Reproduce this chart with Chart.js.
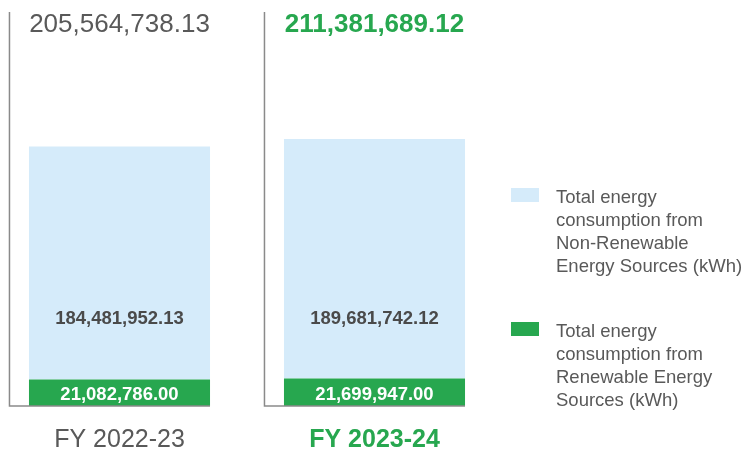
<!DOCTYPE html>
<html>
<head>
<meta charset="utf-8">
<script src="https://cdn.jsdelivr.net/npm/chart.js@4.4.1/dist/chart.umd.min.js"></script>
<style>
  html, body { margin: 0; padding: 0; background: #fff; }
  #wrap { width: 751px; height: 454px; }
</style>
</head>
<body>
<div id="wrap"><canvas id="energy"></canvas></div>
<script>
const categories = ["FY 2022-23", "FY 2023-24"];
const nonRenewable = [184481952.13, 189681742.12];
const renewable = [21082786.00, 21699947.00];
const totals = [205564738.13, 211381689.12];
const legendLines = [
  ["Total energy", "consumption from", "Non-Renewable", "Energy Sources (kWh)"],
  ["Total energy", "consumption from", "Renewable Energy", "Sources (kWh)"]
];

const GREEN = "#27a74f";
const BLUE = "#d5ebfa";
const GREY = "#595959";
const FONT = "'Liberation Sans', Arial, sans-serif";

const fmt = v => v.toLocaleString("en-US", { minimumFractionDigits: 2, maximumFractionDigits: 2 });

// panel lines, value labels and the legend
const decorate = {
  id: "decorate",
  afterDatasetsDraw(chart) {
    const ctx = chart.ctx;
    const { top, bottom } = chart.chartArea;
    const low = chart.getDatasetMeta(0).data;
    ctx.save();
    low.forEach((bar, i) => {
      const left = bar.x - bar.width / 2;
      const right = bar.x + bar.width / 2;
      ctx.strokeStyle = "#8a8a8a";
      ctx.lineWidth = 1.5;
      ctx.beginPath();
      ctx.moveTo(left - 19.5, top);
      ctx.lineTo(left - 19.5, bottom);
      ctx.lineTo(right, bottom);
      ctx.stroke();

      ctx.textAlign = "center";
      ctx.textBaseline = "alphabetic";
      // total above
      ctx.fillStyle = i === 1 ? GREEN : GREY;
      ctx.font = (i === 1 ? "bold " : "") + "26px " + FONT;
      ctx.fillText(fmt(totals[i]), bar.x, 32);
      // renewable inside green
      ctx.fillStyle = "#fff";
      ctx.font = "bold 18.5px " + FONT;
      ctx.fillText(fmt(renewable[i]), bar.x, bottom - 6);
      // non-renewable inside blue
      ctx.fillStyle = "#4a4a4a";
      ctx.font = "bold 18.5px " + FONT;
      ctx.fillText(fmt(nonRenewable[i]), bar.x, bottom - 82);
    });

    // legend
    const items = [
      { color: BLUE, y: 188, lines: legendLines[0] },
      { color: GREEN, y: 322, lines: legendLines[1] }
    ];
    ctx.textAlign = "left";
    ctx.font = "18.5px " + FONT;
    items.forEach(item => {
      ctx.fillStyle = item.color;
      ctx.fillRect(511, item.y, 28, 14);
      ctx.fillStyle = GREY;
      item.lines.forEach((line, k) => {
        ctx.fillText(line, 556, item.y + 14.5 + k * 23.3);
      });
    });
    ctx.restore();
  }
};

new Chart(document.getElementById("energy"), {
  type: "bar",
  data: {
    datasets: [
      {
        label: "Renewable",
        data: renewable.map((v, i) => ({ x: i, y: v })),
        backgroundColor: GREEN,
        stack: "s"
      },
      {
        label: "Non-Renewable",
        data: nonRenewable.map((v, i) => ({ x: i, y: v })),
        backgroundColor: BLUE,
        stack: "s"
      }
    ]
  },
  options: {
    responsive: true,
    maintainAspectRatio: false,
    animation: false,
    layout: { padding: { top: 12, left: 0, right: 261, bottom: 0 } },
    categoryPercentage: 1,
    barPercentage: 0.71,
    plugins: { legend: { display: false }, tooltip: { enabled: false } },
    scales: {
      x: {
        type: "linear",
        offset: false,
        min: -119.5 / 255,
        max: 370.5 / 255,
        stacked: true,
        grid: { display: false, drawTicks: false },
        border: { display: false },
        afterFit: scale => { scale.height = 48; },
        ticks: {
          stepSize: 1,
          includeBounds: false,
          maxRotation: 0,
          padding: 19,
          color: ctx => (ctx.index === 1 ? GREEN : GREY),
          font: ctx => ({ family: FONT, size: 25, weight: ctx.index === 1 ? "bold" : "normal" }),
          callback: v => categories[v] || ""
        }
      },
      y: {
        display: false,
        stacked: true,
        min: 0,
        max: 312000000
      }
    }
  },
  plugins: [decorate]
});
</script>
</body>
</html>
